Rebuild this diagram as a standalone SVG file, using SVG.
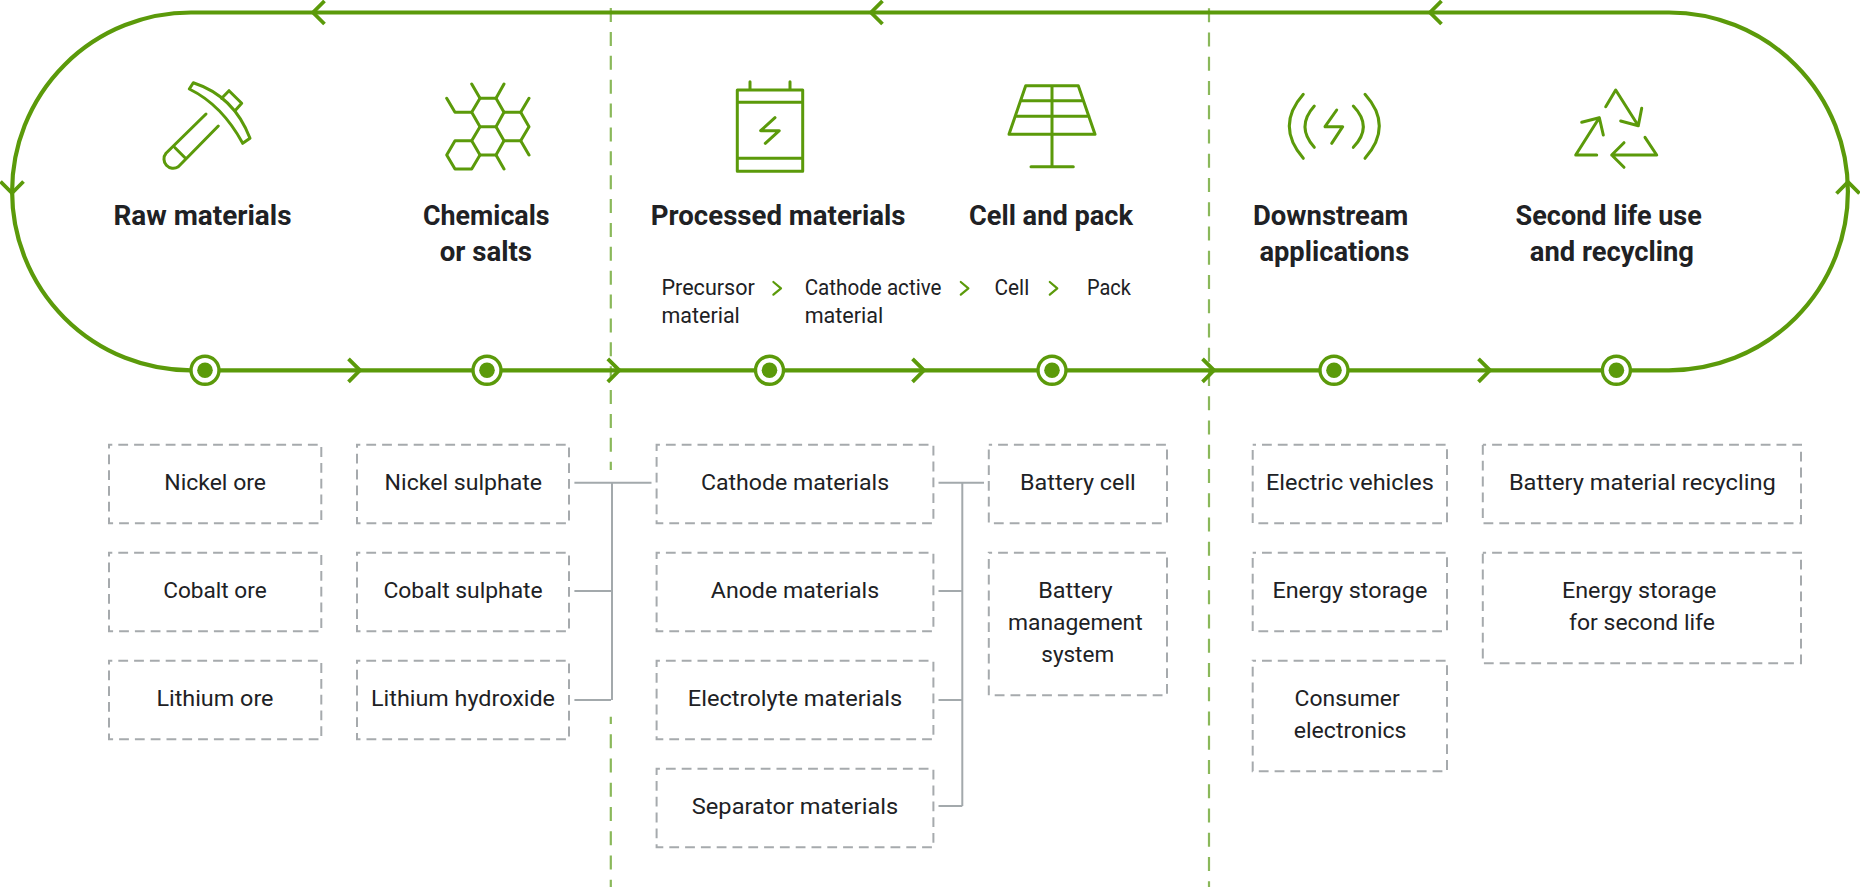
<svg xmlns="http://www.w3.org/2000/svg" width="1860" height="887" viewBox="0 0 1860 887">
<style>
text{font-family:"Roboto","Liberation Sans",sans-serif;fill:#202124}
.t{font-size:27px;font-weight:700}
.b{font-size:22px}
.track{fill:none;stroke:#5b9a0a;stroke-width:4.2}
.chev{fill:none;stroke:#5b9a0a;stroke-width:3.8}
.ic{fill:none;stroke:#5b9a0a;stroke-width:3;stroke-linecap:round;stroke-linejoin:round}
.sm{fill:none;stroke:#5b9a0a;stroke-width:2.2;stroke-linecap:round;stroke-linejoin:round}
.sep{fill:none;stroke:#8ab85a;stroke-width:2.2}
.box{fill:none;stroke:#a6aaad;stroke-width:2;stroke-dasharray:9.8 6;stroke-dashoffset:6.5}
.link{fill:none;stroke:#a3a9ac;stroke-width:2}
.ring{fill:#fff;stroke:#5b9a0a;stroke-width:3.4}
.dot{fill:#5b9a0a}
</style>
<defs>
<path id="ch" class="chev" d="M11.5-11.5 0 0 11.5 11.5"/>
<g id="mark"><circle class="ring" r="14"/><circle class="dot" r="7.8"/></g>
</defs>
<rect width="1860" height="887" fill="#fff"/>
<g id="connectors">
<path class="sep" stroke-dasharray="14 9.87" d="M610.8 8.1V470"/>
<path class="sep" stroke-dasharray="14 10.25" stroke-dashoffset="6.7" d="M610.8 716.7V887"/>
<path class="sep" stroke-dasharray="14 10.25" d="M1209 8.2V887"/>
<path class="track" d="M191 12.5H1669A178.9 178.9 0 0 1 1669 370.3H191A178.9 178.9 0 0 1 191 12.5Z"/>
<use href="#ch" x="313" y="12.5"/>
<use href="#ch" x="871" y="12.5"/>
<use href="#ch" x="1430" y="12.5"/>
<use href="#ch" transform="translate(360 370.3) rotate(180)"/>
<use href="#ch" transform="translate(619.3 370.3) rotate(180)"/>
<use href="#ch" transform="translate(924 370.3) rotate(180)"/>
<use href="#ch" transform="translate(1214 370.3) rotate(180)"/>
<use href="#ch" transform="translate(1490 370.3) rotate(180)"/>
<use href="#ch" transform="translate(12 193) rotate(-90)"/>
<use href="#ch" transform="translate(1848 182) rotate(90)"/>
<path class="link" d="M574.4 482.7H651.5M612 482.7V700M574.4 591H612M574.4 700H611"/>
<path class="link" d="M938.5 482.7H984M962.3 482.7V806M938.5 591H962.3M938.5 700H962.3M938.5 806H962.3"/>
</g>
<g id="stage-raw">
<use href="#mark" x="205" y="370.3"/>
<g class="ic"><path d="M193.3 82.7Q234 96 250 138.3L242.7 143.3Q222 105 189.3 89Z"/><path d="M221.7 98.3 229 90.7 241.7 103.3 235 110.7"/><path d="M206 114 166 153.3A9.2 9.2 0 0 0 178.3 166.7L218.3 126M175 147.7 185 157.7"/></g>
<text class="t" x="113.5" y="224.8" textLength="178" lengthAdjust="spacingAndGlyphs">Raw materials</text>
</g>
<g id="stage-chemicals">
<use href="#mark" x="487" y="370.3"/>
<g class="ic"><path d="M480 98.3H496L504 112.3 496 126.7H480L471.7 112.3Z"/><path d="M504 112.3H520.7L529 126.7 520.7 140.7H504L496 126.7"/><path d="M480 126.7 471.7 140.7 480 155H496L504 140.7"/><path d="M471.7 140.7H455L446.7 155 455 169H471.7L480 155"/><path d="M480 98.3 471.7 84M496 98.3 504 84M471.7 112.3H455L446.7 98.3M520.7 112.3 529 98.3M520.7 140.7 529 155M496 155 504 169"/></g>
<text class="t" x="423" y="224.8" textLength="126.6" lengthAdjust="spacingAndGlyphs">Chemicals</text>
<text class="t" x="439.7" y="261" textLength="92.3" lengthAdjust="spacingAndGlyphs">or salts</text>
</g>
<g id="stage-processed">
<use href="#mark" x="769.5" y="370.3"/>
<g class="ic"><path d="M737.3 90H802.7V171.3H737.3ZM737.3 102.3H802.7M737.3 158.3H802.7M750 81.7V90M790 81.7V90M775 117.7 760.7 130.7H779.3L765.3 143.3"/></g>
<text class="t" x="650.8" y="224.8" textLength="254.7" lengthAdjust="spacingAndGlyphs">Processed materials</text>
<text class="b" x="661.5" y="295" textLength="93.3" lengthAdjust="spacingAndGlyphs">Precursor</text>
<text class="b" x="661.5" y="323" textLength="78.3" lengthAdjust="spacingAndGlyphs">material</text>
<path class="sm" d="M773.4 282 781 288.3 773.4 294.7"/>
<text class="b" x="804.7" y="295" textLength="136.8" lengthAdjust="spacingAndGlyphs">Cathode active</text>
<text class="b" x="804.7" y="323" textLength="78.6" lengthAdjust="spacingAndGlyphs">material</text>
<path class="sm" d="M960.8 282 968.4 288.3 960.8 294.7"/>
</g>
<g id="stage-cell">
<use href="#mark" x="1052" y="370.3"/>
<g class="ic"><path d="M1025.7 85.7H1078.3L1095 134.3H1009ZM1021 100.7H1083.3M1015.7 116.3H1089M1052 85.7V166.7M1031 166.7H1073.3"/></g>
<text class="t" x="969" y="224.8" textLength="164" lengthAdjust="spacingAndGlyphs">Cell and pack</text>
<text class="b" x="994.5" y="295" textLength="34.7" lengthAdjust="spacingAndGlyphs">Cell</text>
<path class="sm" d="M1049.8 282 1057.3 288.3 1049.8 294.7"/>
<text class="b" x="1087" y="295" textLength="43.9" lengthAdjust="spacingAndGlyphs">Pack</text>
</g>
<g id="stage-downstream">
<use href="#mark" x="1334" y="370.3"/>
<g class="ic"><path d="M1303.3 94.3Q1275.3 126 1303.3 158.3M1314.3 106Q1295.7 126.7 1314.3 147.3M1365 94.3Q1393.6 126 1365 158.3M1353.3 106Q1373.3 126.7 1353.3 147.3M1336.7 110 1325 126.7H1342.7L1331.7 143.3"/></g>
<text class="t" x="1253" y="224.8" textLength="155.4" lengthAdjust="spacingAndGlyphs">Downstream</text>
<text class="t" x="1259.4" y="261" textLength="149.8" lengthAdjust="spacingAndGlyphs">applications</text>
</g>
<g id="stage-second-life">
<use href="#mark" x="1616.4" y="370.3"/>
<g class="ic"><path d="M1605.7 106.7 1615.7 90 1638.3 125.7M1641.7 108.3 1638.3 125.7 1620.7 121"/><path d="M1596.7 155H1575.7L1599.3 117.7M1581.7 122.3 1599.3 117.7 1603.3 135"/><path d="M1645 137.3 1656.7 155H1611.7M1624 142.7 1611.7 155 1624 167.3"/></g>
<text class="t" x="1515.6" y="224.8" textLength="186.2" lengthAdjust="spacingAndGlyphs">Second life use</text>
<text class="t" x="1529.8" y="261" textLength="164.2" lengthAdjust="spacingAndGlyphs">and recycling</text>
</g>
<g id="box-nickel-ore"><rect class="box" x="109" y="444.7" width="212.3" height="78.6"/><text class="b" x="164.3" y="490" textLength="101.7" lengthAdjust="spacingAndGlyphs">Nickel ore</text></g>
<g id="box-cobalt-ore"><rect class="box" x="109" y="552.7" width="212.3" height="78.6"/><text class="b" x="163.2" y="598.3" textLength="103.5" lengthAdjust="spacingAndGlyphs">Cobalt ore</text></g>
<g id="box-lithium-ore"><rect class="box" x="109" y="660.7" width="212.3" height="78.6"/><text class="b" x="156.4" y="706" textLength="117.1" lengthAdjust="spacingAndGlyphs">Lithium ore</text></g>
<g id="box-nickel-sulphate"><rect class="box" x="357" y="444.7" width="212" height="78.6"/><text class="b" x="384.6" y="490" textLength="157.4" lengthAdjust="spacingAndGlyphs">Nickel sulphate</text></g>
<g id="box-cobalt-sulphate"><rect class="box" x="357" y="552.7" width="212" height="78.6"/><text class="b" x="383.4" y="598.3" textLength="159.3" lengthAdjust="spacingAndGlyphs">Cobalt sulphate</text></g>
<g id="box-lithium-hydroxide"><rect class="box" x="357" y="660.7" width="212" height="78.6"/><text class="b" x="371" y="706" textLength="184" lengthAdjust="spacingAndGlyphs">Lithium hydroxide</text></g>
<g id="box-cathode"><rect class="box" x="656.6" y="444.7" width="276.8" height="78.6"/><text class="b" x="700.9" y="490" textLength="188.2" lengthAdjust="spacingAndGlyphs">Cathode materials</text></g>
<g id="box-anode"><rect class="box" x="656.6" y="552.7" width="276.8" height="78.6"/><text class="b" x="710.8" y="598.3" textLength="168.4" lengthAdjust="spacingAndGlyphs">Anode materials</text></g>
<g id="box-electrolyte"><rect class="box" x="656.6" y="660.7" width="276.8" height="78.6"/><text class="b" x="687.8" y="706" textLength="214.4" lengthAdjust="spacingAndGlyphs">Electrolyte materials</text></g>
<g id="box-separator"><rect class="box" x="656.6" y="768.7" width="276.8" height="78.6"/><text class="b" x="691.8" y="814" textLength="206.4" lengthAdjust="spacingAndGlyphs">Separator materials</text></g>
<g id="box-battery-cell"><rect class="box" x="988.8" y="444.7" width="178.2" height="78.6"/><text class="b" x="1020" y="490" textLength="115.8" lengthAdjust="spacingAndGlyphs">Battery cell</text></g>
<g id="box-bms"><rect class="box" x="988.8" y="552.7" width="178.2" height="142.6"/><text class="b" x="1038.2" y="598.3" textLength="74.3" lengthAdjust="spacingAndGlyphs">Battery</text><text class="b" x="1008" y="630" textLength="134.6" lengthAdjust="spacingAndGlyphs">management</text><text class="b" x="1041.3" y="662" textLength="72.8" lengthAdjust="spacingAndGlyphs">system</text></g>
<g id="box-ev"><rect class="box" x="1252.7" y="444.7" width="194.3" height="78.6"/><text class="b" x="1266" y="490" textLength="167.8" lengthAdjust="spacingAndGlyphs">Electric vehicles</text></g>
<g id="box-energy-storage"><rect class="box" x="1252.7" y="552.7" width="194.3" height="78.6"/><text class="b" x="1272.4" y="598.3" textLength="155" lengthAdjust="spacingAndGlyphs">Energy storage</text></g>
<g id="box-consumer"><rect class="box" x="1252.7" y="660.7" width="194.3" height="110.6"/><text class="b" x="1294.6" y="706" textLength="105.1" lengthAdjust="spacingAndGlyphs">Consumer</text><text class="b" x="1293.8" y="738" textLength="112.7" lengthAdjust="spacingAndGlyphs">electronics</text></g>
<g id="box-recycling"><rect class="box" x="1482.8" y="444.7" width="318.2" height="78.6"/><text class="b" x="1508.9" y="490" textLength="266.9" lengthAdjust="spacingAndGlyphs">Battery material recycling</text></g>
<g id="box-second-life"><rect class="box" x="1482.8" y="552.7" width="318.2" height="110.6"/><text class="b" x="1561.9" y="598.3" textLength="154.6" lengthAdjust="spacingAndGlyphs">Energy storage</text><text class="b" x="1569" y="630" textLength="146" lengthAdjust="spacingAndGlyphs">for second life</text></g>
</svg>
